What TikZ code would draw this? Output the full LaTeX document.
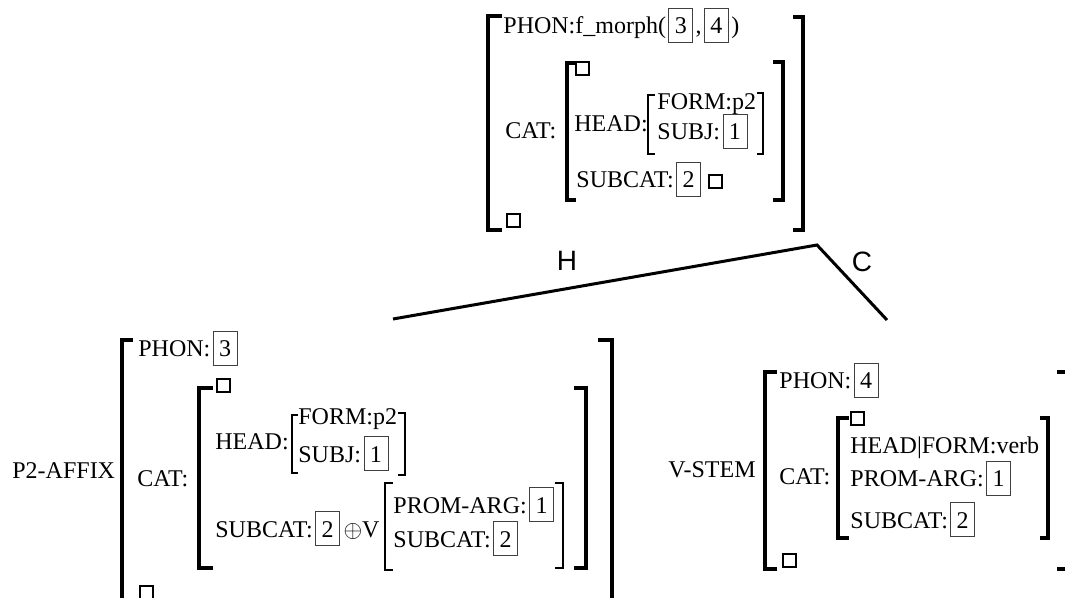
\documentclass[tikz,border=0pt]{standalone}
\usepackage{fontspec}
\setmainfont{Liberation Serif}
\newfontfamily\labelfont{Liberation Sans}
\usetikzlibrary{positioning}

\tikzset{
  txt/.style={inner sep=0pt, anchor=base west, font=\fontsize{12}{14}\selectfont},
  tag/.style={draw=black!75, line width=0.4pt, inner xsep=3pt, inner ysep=0pt,
    text height=13pt, text depth=4pt, anchor=base west, font=\fontsize{12}{14}\selectfont},
  sq/.style={draw, line width=1pt, minimum size=6.5pt, inner sep=0pt},
  outer/.style={line width=2.4pt},
  mid/.style={line width=1.8pt},
  thin/.style={line width=1.1pt},
  branch/.style={line width=1.5pt},
  lbl/.style={inner sep=0pt, font=\labelfont\fontsize{14}{16}\selectfont}
}

\begin{document}
\begin{tikzpicture}[x=0.5pt,y=-0.5pt]
  \useasboundingbox (0,0) rectangle (1065,598);

  % mother
  \node[txt] (phon) at (503,34) {PHON:f\_morph(};
  \node[tag] (t3) at ([xshift=1pt]phon.base east) {3};
  \node[txt] (comma) at ([xshift=1pt]t3.base east) {,};
  \node[tag] (t4) at ([xshift=1pt]comma.base east) {4};
  \node[txt] (rpar) at ([xshift=1pt]t4.base east) {)};
  \node[txt] (cat) at (505,139) {CAT:};
  \node[sq] (sqa) at (582,69) {};
  \node[txt] (head) at (574,132) {HEAD:};
  \node[txt] (form) at (657,110) {FORM:p2};
  \node[txt] (subj) at (657,140) {SUBJ:};
  \node[tag] (t1) at ([xshift=1pt]subj.base east) {1};
  \node[txt] (subcat) at (576,188) {SUBCAT:};
  \node[tag] (t2) at ([xshift=1pt]subcat.base east) {2};
  \node[sq] (sqb) at (715,182) {};
  \node[sq] (sqc) at (513,221) {};
  \draw[outer] (502,16) -- (488,16) -- (488,230) -- (502,230);
  \draw[outer] (793,17) -- (803,17) -- (803,230) -- (793,230);
  \draw[mid] (576,63) -- (567,63) -- (567,200) -- (576,200);
  \draw[mid] (773,62) -- (783,62) -- (783,200) -- (773,200);
  \draw[thin] (655,95) -- (648,95) -- (648,154) -- (655,154);
  \draw[thin] (757,93) -- (763,93) -- (763,154) -- (757,154);

  % branches
  \coordinate (apex) at (817,245);
  \coordinate (hend) at (393,319);
  \coordinate (cend) at (887,320);
  \draw[branch] (hend) -- (apex) -- (cend);
  \node[lbl] (h) at (567,261) {H};
  \node[lbl] (c) at (862,262) {C};

  % head daughter
  \node[txt] (affix) at (12,478) {P2-AFFIX};
  \node[txt] (phonl) at (138,357) {PHON:};
  \node[tag] (t3l) at ([xshift=1pt]phonl.base east) {3};
  \node[txt] (catl) at (137,487) {CAT:};
  \node[sq] (sqd) at (223,386) {};
  \node[txt] (headl) at (215,450) {HEAD:};
  \node[txt] (forml) at (298,424) {FORM:p2};
  \node[txt] (subjl) at (298,462) {SUBJ:};
  \node[tag] (t1l) at ([xshift=1pt]subjl.base east) {1};
  \node[txt] (subcatl) at (215,537) {SUBCAT:};
  \node[tag] (t2l) at ([xshift=1pt]subcatl.base east) {2};
  \node[txt] (plus) at ([xshift=1.5pt]t2l.base east) {$\oplus$V};
  \node[txt] (prom) at (393,513) {PROM-ARG:};
  \node[tag] (t1m) at ([xshift=1pt]prom.base east) {1};
  \node[txt] (subcatm) at (393,547) {SUBCAT:};
  \node[tag] (t2m) at ([xshift=1pt]subcatm.base east) {2};
  \node[sq] (sqe) at (146,592) {};
  \draw[outer] (133,340) -- (122,340) -- (122,630);
  \draw[outer] (598,340) -- (612,340) -- (612,630);
  \draw[mid] (213,388) -- (199,388) -- (199,568) -- (213,568);
  \draw[mid] (574,388) -- (586,388) -- (586,568) -- (574,568);
  \draw[thin] (298,415) -- (292,415) -- (292,473) -- (298,473);
  \draw[thin] (398,413) -- (405,413) -- (405,475) -- (398,475);
  \draw[thin] (393,483) -- (385,483) -- (385,570) -- (393,570);
  \draw[thin] (555,483) -- (563,483) -- (563,568) -- (555,568);

  % complement daughter
  \node[txt, anchor=base east] (stem) at (756,477) {V-STEM};
  \node[txt] (phonr) at (779,389) {PHON:};
  \node[tag] (t4r) at ([xshift=1pt]phonr.base east) {4};
  \node[txt] (catr) at (779,484) {CAT:};
  \node[sq] (sqf) at (857,419) {};
  \node[txt] (headr) at (850,453) {HEAD\textbar FORM:verb};
  \node[txt] (promr) at (850,487) {PROM-ARG:};
  \node[tag] (t1r) at ([xshift=1pt]promr.base east) {1};
  \node[txt] (subcatr) at (850,528) {SUBCAT:};
  \node[tag] (t2r) at ([xshift=1pt]subcatr.base east) {2};
  \node[sq] (sqg) at (789,560) {};
  \draw[outer] (777,372) -- (765,372) -- (765,569) -- (777,569);
  \draw[outer] (1057,372) -- (1072,372) -- (1072,569) -- (1057,569);
  \draw[mid] (849,418) -- (838,418) -- (838,538) -- (849,538);
  \draw[mid] (1040,418) -- (1048,418) -- (1048,538) -- (1040,538);
\end{tikzpicture}
\end{document}
